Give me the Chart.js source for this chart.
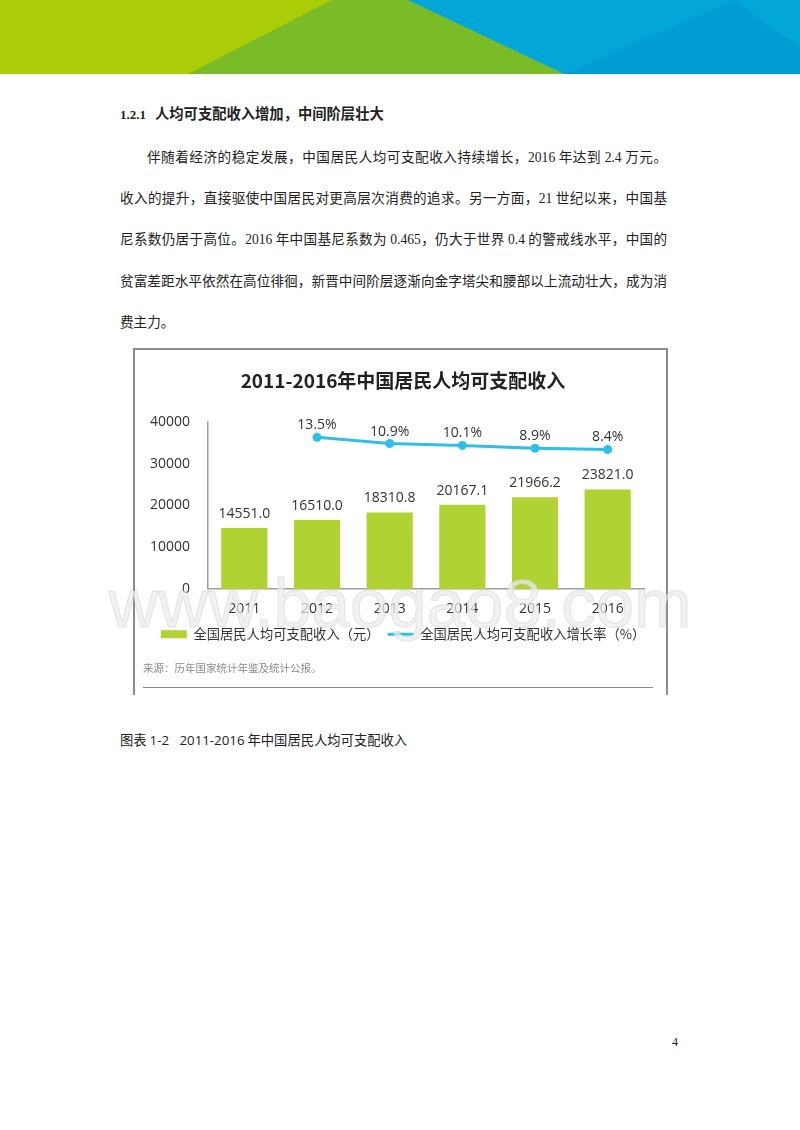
<!DOCTYPE html>
<html lang="zh">
<head>
<meta charset="utf-8">
<title>2011-2016年中国居民人均可支配收入</title>
<script src="https://cdn.jsdelivr.net/npm/chart.js@4"></script>
<style>
  html, body { margin: 0; padding: 0; background: #fff; }
  #page { position: relative; width: 800px; height: 1130px; overflow: hidden; font-family: "Noto Sans CJK SC", sans-serif; color: #222; }
  #banner { position: absolute; left: 0; top: 0; }
  .heading { position: absolute; left: 120px; top: 104px; font-size: 14.3px; font-weight: 700; line-height: 18px; white-space: nowrap; }
  .heading .num { font-size: 13px; margin-right: 9px; }
  .body-line { position: absolute; left: 120px; width: 547px; font-size: 13.6px; line-height: 20px; text-align: justify; text-align-last: justify; white-space: nowrap; }
  .num { font-family: "Liberation Serif", serif; }
  #frame { position: absolute; left: 133px; top: 348px; width: 531px; height: 345px; border: 2px solid #8c8c8c; border-bottom: 0; }
  #chart-wrap { position: absolute; left: 138px; top: 350px; width: 530px; height: 343px; }
  #source { position: absolute; left: 143px; top: 660px; font-size: 10.5px; line-height: 16px; color: #8a8a8a; }
  #rule { position: absolute; left: 143px; top: 687px; width: 510px; height: 1px; background: #8c8c8c; }
  #watermark { position: absolute; left: 100px; top: 564px; width: 600px; text-align: center; font-family: "Liberation Sans", sans-serif; font-size: 69px; line-height: 80px; color: rgba(236,236,236,.72); -webkit-text-stroke: 1px rgba(190,190,190,.35); white-space: nowrap; }
  #caption { position: absolute; left: 120px; top: 731px; font-size: 13.3px; line-height: 18px; white-space: pre; }
  #caption .sans { font-family: "Open Sans", sans-serif; }
  #page-no { position: absolute; left: 672px; top: 1033px; font-family: "Liberation Serif", serif; font-size: 12px; line-height: 18px; }
</style>
</head>
<body>
<div id="page">
  <svg id="banner" width="800" height="74" viewBox="0 0 800 74">
    <rect width="800" height="74" fill="#aacd08"/>
    <polygon points="332,0 408,0 564,74 188,74" fill="#7abb28"/>
    <polygon points="408,0 800,0 800,74 564,74" fill="#02a7d8"/>
    <polygon points="735,0 800,48 800,74 564,74" fill="#009dd2"/>
  </svg>

  <div class="heading"><span class="num">1.2.1</span>人均可支配收入增加，中间阶层壮大</div>
  <div class="body-line" style="left:147px;width:520px;top:146px">伴随着经济的稳定发展，中国居民人均可支配收入持续增长，<span class="num">2016</span> 年达到 <span class="num">2.4</span> 万元。</div>
  <div class="body-line" style="top:187px">收入的提升，直接驱使中国居民对更高层次消费的追求。另一方面，<span class="num">21</span> 世纪以来，中国基</div>
  <div class="body-line" style="top:228px">尼系数仍居于高位。<span class="num">2016</span> 年中国基尼系数为 <span class="num">0.465</span>，仍大于世界 <span class="num">0.4</span> 的警戒线水平，中国的</div>
  <div class="body-line" style="top:270px">贫富差距水平依然在高位徘徊，新晋中间阶层逐渐向金字塔尖和腰部以上流动壮大，成为消</div>
  <div class="body-line" style="top:311px;width:auto;text-align-last:left">费主力。</div>

  <div id="frame"></div>
  <div id="chart-wrap"><canvas id="incomeChart" width="530" height="343"></canvas></div>
  <div id="source">来源：历年国家统计年鉴及统计公报。</div>
  <div id="rule"></div>
  <div id="watermark">www.baogao8.com</div>

  <div id="caption">图表 <span class="sans">1-2   2011-2016</span> 年中国居民人均可支配收入</div>
  <div id="page-no">4</div>
</div>

<script>
// Chart data
const years = ["2011", "2012", "2013", "2014", "2015", "2016"];
const income = [14551.0, 16510.0, 18310.8, 20167.1, 21966.2, 23821.0];
const growth = [null, 13.5, 10.9, 10.1, 8.9, 8.4];
const incomeTicks = [0, 10000, 20000, 30000, 40000];

const CHART_FONT = '"Noto Sans CJK SC", sans-serif';
const LABEL_FONT = '"Open Sans", "Noto Sans CJK SC", sans-serif';

// Value labels above bars and line points
const valueLabels = {
  id: "valueLabels",
  afterDatasetsDraw(chart) {
    const ctx = chart.ctx;
    ctx.save();
    ctx.font = "14px " + LABEL_FONT;
    ctx.fillStyle = "#333";
    ctx.textAlign = "center";
    ctx.textBaseline = "bottom";
    chart.getDatasetMeta(0).data.forEach((bar, i) => {
      ctx.fillText(income[i].toFixed(1), bar.x, bar.y - 7);
    });
    chart.getDatasetMeta(1).data.forEach((point, i) => {
      if (growth[i] === null) return;
      ctx.fillText(growth[i].toFixed(1) + "%", point.x, point.y - 5);
    });
    ctx.restore();
  },
};

new Chart(document.getElementById("incomeChart"), {
  data: {
    labels: years,
    datasets: [
      {
        type: "bar",
        label: "全国居民人均可支配收入（元）",
        data: income,
        backgroundColor: "#b0d232",
        barPercentage: 0.635,
        categoryPercentage: 1,
        yAxisID: "y",
      },
      {
        type: "line",
        label: "全国居民人均可支配收入增长率（%）",
        data: growth,
        borderColor: "#2fbfe6",
        backgroundColor: "#2fbfe6",
        borderWidth: 3,
        pointRadius: 4.5,
        pointBackgroundColor: "#2fbfe6",
        pointBorderWidth: 0,
        tension: 0,
        yAxisID: "rate",
      },
    ],
  },
  options: {
    responsive: false,
    animation: false,
    layout: { padding: { left: 0, right: 0, top: 19, bottom: 42 } },
    scales: {
      x: {
        grid: { display: false, drawTicks: false },
        border: { color: "#a0a0a0", width: 1.5 },
        ticks: { color: "#333", font: { family: LABEL_FONT, size: 14 }, padding: 12 },
        afterFit(axis) {
          axis.height -= 10;
        },
      },
      y: {
        min: 0,
        max: 40000,
        afterBuildTicks(axis) {
          axis.ticks = incomeTicks.map((value) => ({ value }));
        },
        afterFit(axis) {
          axis.width = 70;
        },
        grid: { display: false, drawTicks: false },
        border: { color: "#a0a0a0", width: 1.5 },
        ticks: {
          color: "#333",
          font: { family: LABEL_FONT, size: 14 },
          padding: 18,
          callback: (value) => String(value),
        },
      },
      // growth rate axis: invisible, only reserves the space right of the plot
      rate: {
        axis: "y",
        position: "right",
        min: -50,
        max: 20,
        grid: { display: false, drawTicks: false },
        border: { display: false },
        ticks: { display: false },
        afterFit(axis) {
          axis.width = 24;
        },
      },
    },
    plugins: {
      title: {
        display: true,
        text: "2011-2016年中国居民人均可支配收入",
        color: "#222",
        font: { family: CHART_FONT, size: 19, weight: "bold" },
        padding: { top: 0, bottom: 30 },
      },
      legend: {
        position: "bottom",
        labels: {
          color: "#333",
          font: { family: CHART_FONT, size: 13.3 },
          usePointStyle: true,
          pointStyleWidth: 26,
          boxHeight: 8,
          padding: 8,
          generateLabels(chart) {
            const items = Chart.defaults.plugins.legend.labels.generateLabels(chart);
            items[0].pointStyle = "rect";
            items[0].lineWidth = 0;
            items[1].pointStyle = "line";
            items[1].strokeStyle = "#2fbfe6";
            items[1].lineWidth = 3;
            return items;
          },
        },
      },
      tooltip: { enabled: false },
    },
  },
  plugins: [valueLabels],
});
</script>
</body>
</html>
